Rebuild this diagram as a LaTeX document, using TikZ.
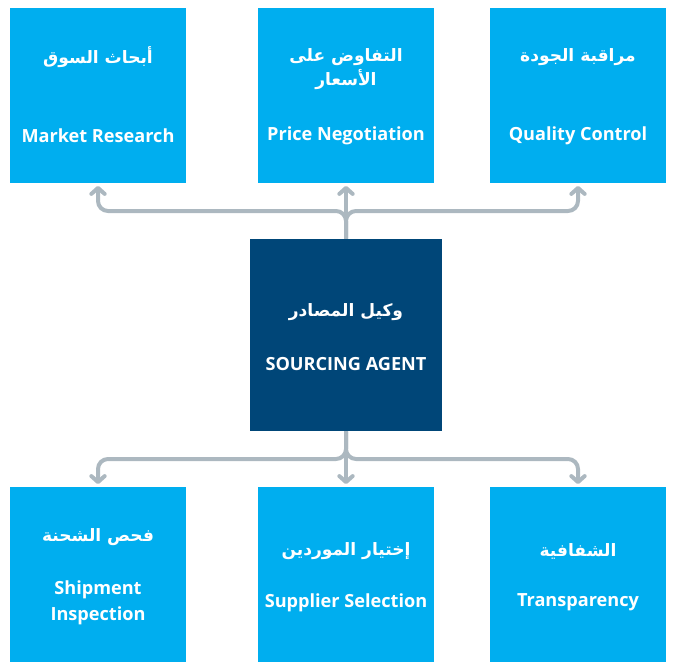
\documentclass[tikz,border=0pt]{standalone}
\usepackage{fontspec}
\setmainfont{Open Sans}
\newfontfamily\arabicfont[Script=Arabic]{DejaVu Sans}
\TeXXeTstate=1
\usetikzlibrary{arrows.meta}

\definecolor{tileblue}{RGB}{0,174,239}
\definecolor{agentnavy}{RGB}{0,70,120}
\definecolor{linkgray}{RGB}{172,184,192}

\begin{document}
\begin{tikzpicture}[x=0.75pt,y=-0.75pt]
\tikzset{
  tile/.style={fill=tileblue, minimum width=132pt, minimum height=131.25pt, inner sep=0pt},
  hub/.style={fill=agentnavy, minimum width=144pt, minimum height=144pt, inner sep=0pt},
  en/.style={text=white, font=\bfseries\fontsize{13.6}{19.5}\selectfont, align=center},
  ar/.style={text=white, font=\arabicfont\bfseries\fontsize{12.8}{18.5}\selectfont, align=center},
  link/.style={draw=linkgray, line width=3pt, rounded corners=7.5pt,
    -{Straight Barb[round,length=4.5pt,width=10pt]}, shorten >=2pt}
}
\useasboundingbox (0,0) rectangle (674,667);

% tiles
\node[tile] (research) at (98,95.5) {};
\node[tile] (pricing) at (346,95.5) {};
\node[tile] (quality) at (578,95.5) {};
\node[hub] (agent) at (346,335) {};
\node[tile] (shipment) at (98,574.5) {};
\node[tile] (supplier) at (346,574.5) {};
\node[tile] (transparency) at (578,574.5) {};

% texts
\node[ar] (research-ar) at (98,57) {\beginR أبحاث السوق\endR};
\node[en] (research-en) at (98,135.5) {Market Research};
\node[ar] (pricing-ar) at (346,69) {\beginR التفاوض على\endR\\\beginR الأسعار\endR};
\node[en] (pricing-en) at (346,135.5) {Price Negotiation};
\node[ar] (quality-ar) at (578,57) {\beginR مراقبة الجودة\endR};
\node[en] (quality-en) at (578,135.5) {Quality Control};
\node[ar] (agent-ar) at (346,312) {\beginR وكيل المصادر\endR};
\node[en] (agent-en) at (346,364.5) {SOURCING AGENT};
\node[ar] (shipment-ar) at (98,537) {\beginR فحص الشحنة\endR};
\node[en] (shipment-en) at (98,602.5) {Shipment\\Inspection};
\node[ar] (supplier-ar) at (346,551) {\beginR إختيار الموردين\endR};
\node[en] (supplier-en) at (346,602.5) {Supplier Selection};
\node[ar] (transparency-ar) at (578,551) {\beginR الشفافية\endR};
\node[en] (transparency-en) at (578,602.5) {Transparency};

% connectors
\coordinate (upfork) at (346,211);
\coordinate (downfork) at (346,459);
\draw[link] (agent.north) -- (upfork) -| (research.south);
\draw[link] (agent.north) -- (upfork) -| (quality.south);
\draw[link] (agent.north) -- (pricing.south);
\draw[link] (agent.south) -- (downfork) -| (shipment.north);
\draw[link] (agent.south) -- (downfork) -| (transparency.north);
\draw[link] (agent.south) -- (supplier.north);
\end{tikzpicture}
\end{document}
